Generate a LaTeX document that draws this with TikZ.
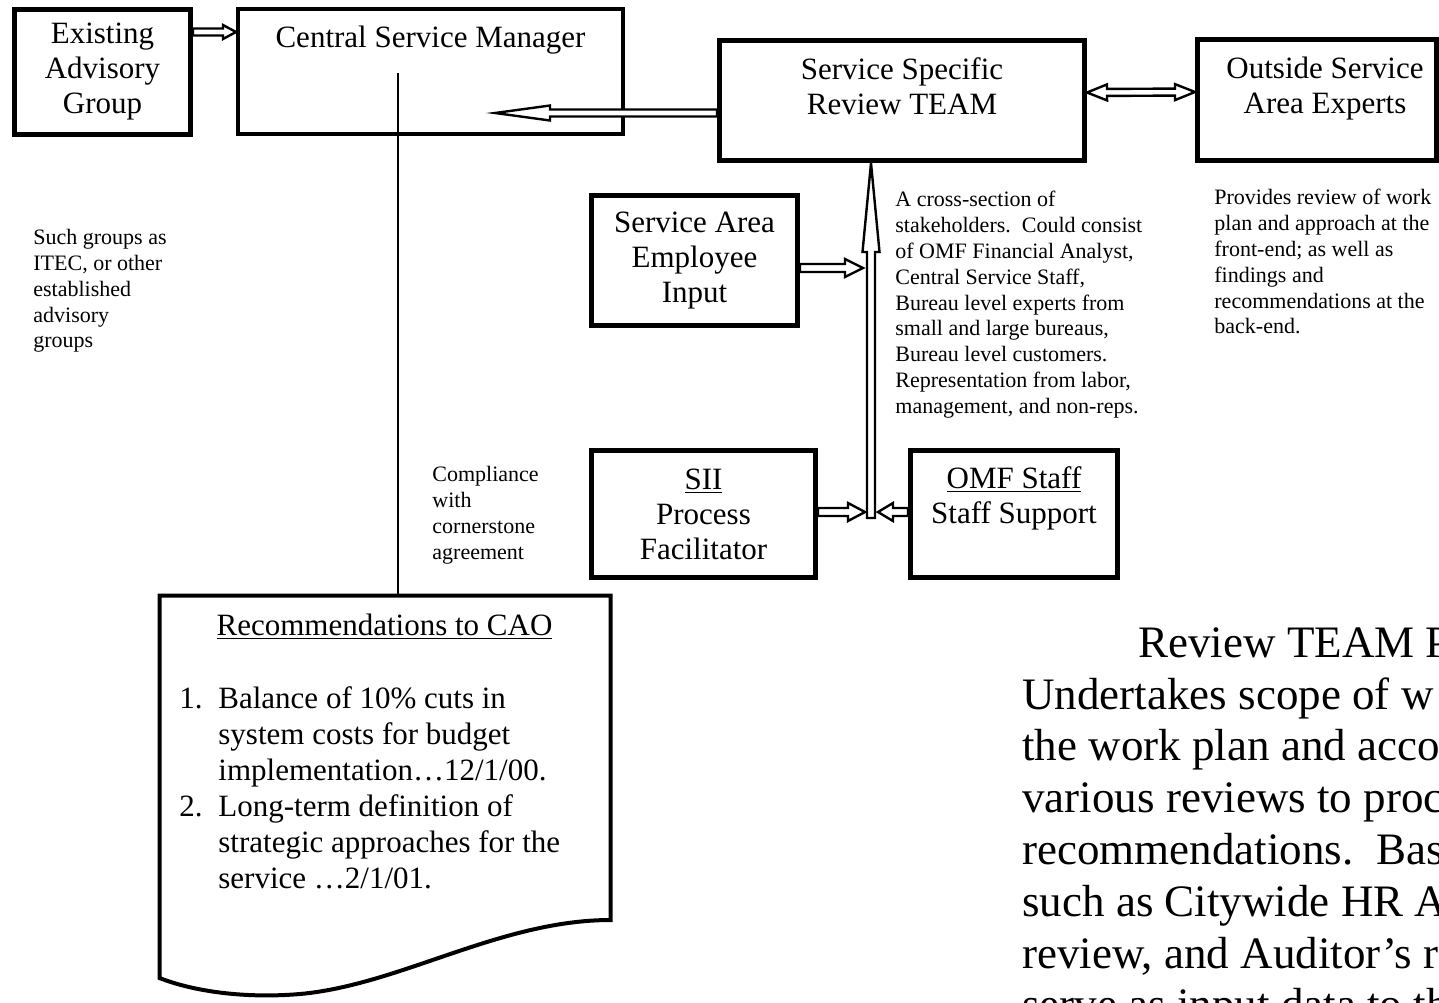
\documentclass[tikz,border=0pt]{standalone}
\usepackage{fontspec}
\setmainfont{Liberation Serif}
\usetikzlibrary{calc,positioning}
\newcommand\boxfont{\fontsize{15.5}{17.5}\selectfont}
\newcommand\docfont{\fontsize{15.5}{18}\selectfont}
\newcommand\notefont{\fontsize{11}{12.9}\selectfont}
\newcommand\bigfont{\fontsize{22.5}{25.9}\selectfont}
\tikzset{box/.style={draw, line width=2.5pt, align=center, inner sep=0pt, font=\boxfont},
         boxtext/.style={align=center, inner sep=0pt, font=\boxfont},
         note/.style={align=left, inner sep=0pt, anchor=north west, font=\notefont},
         blockline/.style={draw, fill=white, line width=1.2pt, line join=miter},
         thinline/.style={line width=0.8pt}}
\newcommand\blockarrow[5]{%
  \coordinate (ba) at (#1);
  \coordinate (bb) at (#2);
  \coordinate (bm) at ($(bb)!#5!(ba)$);
  \draw[blockline] ($(ba)!#3!90:(bb)$) -- ($(bm)!#3!-90:(ba)$) -- ($(bm)!#4!-90:(ba)$) -- (bb)
    -- ($(bm)!#4!90:(ba)$) -- ($(bm)!#3!90:(ba)$) -- ($(ba)!#3!-90:(bb)$) -- cycle;}
\newcommand\blockarrowboth[5]{%
  \coordinate (ba) at (#1);
  \coordinate (bb) at (#2);
  \coordinate (bm) at ($(bb)!#5!(ba)$);
  \coordinate (bn) at ($(ba)!#5!(bb)$);
  \draw[blockline] (ba) -- ($(bn)!#4!90:(bb)$) -- ($(bn)!#3!90:(bb)$) -- ($(bm)!#3!-90:(ba)$)
    -- ($(bm)!#4!-90:(ba)$) -- (bb) -- ($(bm)!#4!90:(ba)$) -- ($(bm)!#3!90:(ba)$)
    -- ($(bn)!#3!-90:(bb)$) -- ($(bn)!#4!-90:(bb)$) -- cycle;}

\begin{document}
\begin{tikzpicture}[x=0.5pt,y=-0.5pt]
   \useasboundingbox (0,0) rectangle (1439,1002);
   \clip (0,0) rectangle (1439,1002);
   \node[box, minimum width=88pt, minimum height=62.5pt] (adv) at (102.5,72) {Existing\\Advisory\\Group};
   \node[box, line width=2pt, minimum width=192.5pt, minimum height=62.5pt] (csm) at (430.5,71.5) {};
   \node[box, minimum width=182.5pt, minimum height=60pt] (review) at (902,100.5) {};
   \node[box, minimum width=119.5pt, minimum height=60.5pt] (outside) at (1317,100) {};
   \node[box, minimum width=103pt, minimum height=65pt] (sae) at (694.5,260.5) {Service Area\\Employee\\Input};
   \node[box, minimum width=112pt, minimum height=63.5pt] (sii) at (703.5,514) {\underline{SII}\\Process\\Facilitator};
   \node[box, minimum width=103.5pt, minimum height=63.5pt] (omf) at (1014,514) {};

   \node[boxtext, below=9.4pt of csm.north] (csmlabel) {Central Service Manager};
   \node[boxtext, below=9.4pt of review.north] (reviewlabel) {Service Specific\\Review TEAM};
   \node[boxtext, below=9.9pt of outside.north, xshift=4pt] (outsidelabel) {Outside Service\\Area Experts};
   \node[boxtext, below=8.9pt of omf.north] (omflabel) {\underline{OMF Staff}\\Staff Support};

   \coordinate (csmtip) at (495,113);
   \coordinate (hub) at (871,518);
   \coordinate (hubsae) at (863,268);
   \coordinate (hubsii) at (865,512);
   \coordinate (hubomf) at (878,512);
   \coordinate (csmline) at (398,73);
   \coordinate (doctop) at (398,595.5);

   \draw[thinline] (csmline) -- (doctop);
   \draw[line width=2pt, line join=miter] (159.5,595.5) -- (610.5,595.5) -- (610.5,920)
     .. controls (500,920) and (400,985) .. (300,994)
     .. controls (240,999) and (190,990) .. (159.5,978) -- cycle;

   \blockarrow{[yshift=20pt]adv.east}{[yshift=19.75pt]csm.west}{1.75pt}{3.5pt}{6.5pt}
   \blockarrow{[yshift=-6.25pt]review.west}{csmtip}{1.75pt}{3.75pt}{27.5pt}
   \blockarrowboth{[yshift=4pt]review.east}{[yshift=4pt]outside.west}{1.75pt}{4pt}{10pt}
   \blockarrow{hub}{hub |- review.south}{2pt}{4.25pt}{44.5pt}
   \blockarrow{[yshift=-3.75pt]sae.east}{hubsae}{2pt}{4.5pt}{9pt}
   \blockarrow{[yshift=1pt]sii.east}{hubsii}{2pt}{4.5pt}{8.5pt}
   \blockarrow{[yshift=1pt]omf.west}{hubomf}{2pt}{4.5pt}{7.5pt}

   \node[note] (groupsnote) at (33,229) {Such groups as\\ITEC, or other\\established\\advisory\\groups};
   \node[note] (compliance) at (432,466) {Compliance\\with\\cornerstone\\agreement};
   \node[note] (teamnote) at (895,191) {A cross-section of\\stakeholders.\ \ Could consist\\of OMF Financial Analyst,\\Central Service Staff,\\Bureau level experts from\\small and large bureaus,\\Bureau level customers.\\Representation from labor,\\management, and non-reps.};
   \node[note] (expertnote) at (1214,189) {Provides review of work\\plan and approach at the\\front-end; as well as\\findings and\\recommendations at the\\back-end.};

   \node[boxtext, anchor=base] (doctitle) at (384.5,635) {\underline{Recommendations to CAO}};
   \node[inner sep=0pt, align=left, anchor=north west, font=\docfont] (docitems) at (179,686) {%
     \makebox[19.5pt][l]{1.}Balance of 10\% cuts in\\
     \hspace*{19.5pt}system costs for budget\\
     \hspace*{19.5pt}implementation\ldots12/1/00.\\
     \makebox[19.5pt][l]{2.}Long-term definition of\\
     \hspace*{19.5pt}strategic approaches for the\\
     \hspace*{19.5pt}service \ldots2/1/01.};

   \node[inner sep=0pt, align=left, anchor=north west, font=\bigfont] (process) at (1022,627) {%
     \hspace*{58pt}Review TEAM Pr\\
     Undertakes scope of w\\
     the work plan and acco\\
     various reviews to proc\\
     recommendations.\ \ Bas\\
     such as Citywide HR A\\
     review, and Auditor’s r\\
     serve as input data to th};
\end{tikzpicture}
\end{document}
